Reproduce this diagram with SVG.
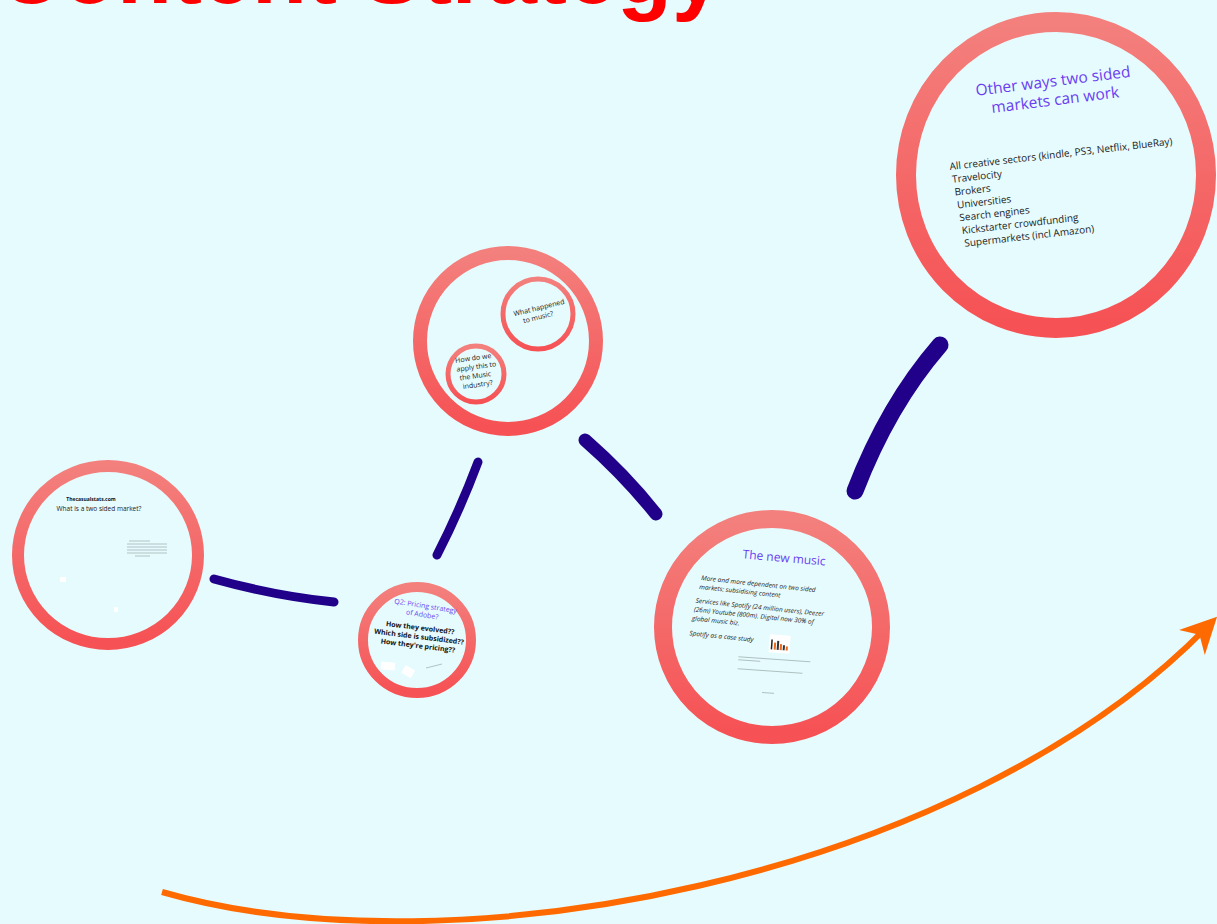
<svg xmlns="http://www.w3.org/2000/svg" width="1217" height="924" viewBox="0 0 1217 924">
  <defs>
    <linearGradient id="ring" x1="0" y1="0" x2="0" y2="1">
      <stop offset="0" stop-color="#f3807d"/>
      <stop offset="1" stop-color="#f65154"/>
    </linearGradient>
    <marker id="orangeHead" viewBox="0 0 10 10" refX="6" refY="5" markerWidth="6" markerHeight="6" orient="auto" markerUnits="strokeWidth">
      <path d="M0,0 L10,5 L0,10 L3,5 Z" fill="#ff6a00"/>
    </marker>
  </defs>
  <style>
    .ring { fill: #e6fbfd; stroke: url(#ring); }
    .conn { fill: none; stroke: #21008a; stroke-linecap: round; }
    .title { font-family: "Liberation Sans", Arial, sans-serif; font-weight: bold; fill: #ff0000; }
    .purple { font-family: "Open Sans", "Noto Sans", sans-serif; fill: #6a3df2; }
    .body { font-family: "Open Sans", "Noto Sans", sans-serif; fill: #1a1a1a; }
    .bold { font-family: "Open Sans", "Noto Sans", sans-serif; font-weight: bold; fill: #111; }
    .tiny { stroke: #9aa; stroke-width: 0.7; }
  </style>
  <rect width="1217" height="924" fill="#e6fbfd"/>

  <text class="title" x="722" y="3" font-size="90" text-anchor="end">Content Strategy</text>

  <g id="connectors">
    <path class="conn" d="M214,579 Q275,596 334,602" stroke-width="9"/>
    <path class="conn" d="M437,555 Q460,510 478,462" stroke-width="9"/>
    <path class="conn" d="M585,440 Q625,475 656,514" stroke-width="13"/>
    <path class="conn" d="M855,491 Q888,405 940,345" stroke-width="17"/>
    <path d="M162,892 C450,975 960,880 1207,627" fill="none" stroke="#ff6a00" stroke-width="6" marker-end="url(#orangeHead)"/>
  </g>

  <g id="node-other-ways">
    <ellipse class="ring" cx="1056" cy="175" rx="150" ry="153" stroke-width="20"/>
    <g transform="rotate(-7 1056 90)">
      <text class="purple" x="1054" y="86" font-size="15.5" text-anchor="middle">Other ways two sided</text>
      <text class="purple" x="1054" y="105" font-size="15.5" text-anchor="middle">markets can work</text>
    </g>
    <g transform="rotate(-6.5 950 170)">
      <text class="body" x="950" y="170" font-size="10">All creative sectors (kindle, PS3, Netflix, BlueRay)</text>
      <text class="body" x="951" y="183" font-size="10">Travelocity</text>
      <text class="body" x="952" y="196" font-size="10">Brokers</text>
      <text class="body" x="953" y="209" font-size="10">Universities</text>
      <text class="body" x="954" y="222" font-size="10">Search engines</text>
      <text class="body" x="955" y="235" font-size="10">Kickstarter crowdfunding</text>
      <text class="body" x="956" y="248" font-size="10">Supermarkets (incl Amazon)</text>
    </g>
  </g>

  <g id="node-music">
    <ellipse class="ring" cx="508" cy="341" rx="88" ry="88" stroke-width="14"/>
    <g id="node-what-happened">
      <circle class="ring" cx="538" cy="314" r="35" stroke-width="5"/>
      <g transform="rotate(-14 540 312)">
        <text class="body" x="540" y="310" font-size="7" text-anchor="middle">What happened</text>
        <text class="body" x="537" y="319" font-size="7" text-anchor="middle">to music?</text>
      </g>
    </g>
    <g id="node-apply">
      <circle class="ring" cx="476" cy="374" r="28" stroke-width="5"/>
      <g transform="rotate(-8 470 372)">
        <text class="body" x="457" y="361" font-size="7">How do we</text>
        <text class="body" x="457" y="370" font-size="7">apply this to</text>
        <text class="body" x="459" y="379" font-size="7">the Music</text>
        <text class="body" x="461" y="388" font-size="7">industry?</text>
      </g>
    </g>
  </g>

  <g id="node-two-sided">
    <ellipse class="ring" cx="108" cy="555" rx="90" ry="89" stroke-width="12"/>
    <text class="bold" x="91" y="501" font-size="5" text-anchor="middle">Thecasualstats.com</text>
    <text class="body" x="99" y="511" font-size="6.5" text-anchor="middle">What is a two sided market?</text>
    <g class="tiny">
      <line x1="129" y1="541" x2="150" y2="541"/>
      <line x1="127" y1="544" x2="167" y2="544"/>
      <line x1="127" y1="547" x2="167" y2="547"/>
      <line x1="127" y1="550" x2="167" y2="550"/>
      <line x1="127" y1="553" x2="167" y2="553"/>
      <line x1="135" y1="556" x2="150" y2="556"/>
    </g>
    <rect x="60" y="577" width="6" height="5" fill="#ffffff"/>
    <rect x="114" y="607" width="4" height="5" fill="#ffffff"/>
  </g>

  <g id="node-q2">
    <ellipse class="ring" cx="417" cy="640" rx="54" ry="53" stroke-width="10"/>
    <g transform="rotate(9 423 610)">
      <text class="purple" x="425" y="608" font-size="7" text-anchor="middle">Q2: Pricing strategy</text>
      <text class="purple" x="423" y="617" font-size="7" text-anchor="middle">of Adobe?</text>
    </g>
    <g transform="rotate(7 418 637)">
      <text class="bold" x="419" y="630" font-size="7" text-anchor="middle">How they evolved??</text>
      <text class="bold" x="419" y="639" font-size="7" text-anchor="middle">Which side is subsidized??</text>
      <text class="bold" x="419" y="648" font-size="7" text-anchor="middle">How they're pricing??</text>
    </g>
    <rect x="381" y="662" width="14" height="8" fill="#ffffff" transform="rotate(5 388 666)"/>
    <rect x="403" y="667" width="11" height="9" fill="#ffffff" transform="rotate(30 408 671)"/>
    <line class="tiny" x1="426" y1="668" x2="442" y2="664"/>
  </g>

  <g id="node-new-music">
    <ellipse class="ring" cx="772" cy="627" rx="109" ry="108" stroke-width="18"/>
    <text class="purple" x="784" y="562" font-size="12" text-anchor="middle" transform="rotate(5 784 560)">The new music</text>
    <g transform="rotate(6 700 580)">
      <text class="body" x="701" y="580" font-size="6.5" font-style="italic">More and more dependent on two sided</text>
      <text class="body" x="700" y="589" font-size="6.5" font-style="italic">markets: subsidising content</text>
      <text class="body" x="698" y="603" font-size="6.5" font-style="italic">Services like Spotify (24 million users), Deezer</text>
      <text class="body" x="697" y="612" font-size="6.5" font-style="italic">(26m) Youtube (800m).  Digital now 30% of</text>
      <text class="body" x="696" y="621" font-size="6.5" font-style="italic">global music biz.</text>
      <text class="body" x="695" y="636" font-size="6.5" font-style="italic">Spotify as a case study</text>
    </g>
    <g transform="rotate(4 780 645)">
      <rect x="769" y="635" width="21" height="18" fill="#ffffff"/>
      <rect x="771" y="640" width="1.5" height="10" fill="#222"/>
      <rect x="774" y="643" width="2" height="7" fill="#e86a1a"/>
      <rect x="777" y="641" width="2" height="9" fill="#333"/>
      <rect x="780" y="644" width="2" height="6" fill="#e86a1a"/>
      <rect x="783" y="645" width="2" height="5" fill="#333"/>
      <rect x="786" y="646" width="2" height="4" fill="#e86a1a"/>
    </g>
    <g class="tiny" transform="rotate(4 770 665)">
      <line x1="738" y1="659" x2="810" y2="659"/>
      <line x1="738" y1="662" x2="760" y2="662"/>
      <line x1="738" y1="671" x2="803" y2="671"/>
      <line x1="764" y1="693" x2="776" y2="693"/>
    </g>
  </g>
</svg>
